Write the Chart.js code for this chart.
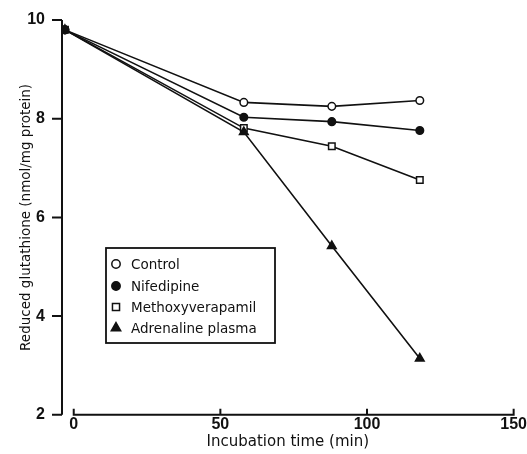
<!DOCTYPE html>
<html>
<head>
<meta charset="utf-8">
<script src="https://cdn.jsdelivr.net/npm/chart.js@4.4.1/dist/chart.umd.min.js"></script>
<style>
  html, body { margin: 0; padding: 0; background: #fff; }
  #wrap { width: 527px; height: 454px; }
</style>
</head>
<body>
<div id="wrap"><canvas id="chart" width="527" height="454"></canvas></div>
<script>
// ============ DATA ============
const seriesNames = ['Control', 'Nifedipine', 'Methoxyverapamil', 'Adrenaline plasma'];
const times = [-3, 58, 88, 118];
const control = [9.8, 8.33, 8.25, 8.37];
const nifedipine = [9.8, 8.03, 7.94, 7.76];
const methoxyverapamil = [9.8, 7.81, 7.44, 6.76];
const adrenaline = [9.8, 7.73, 5.42, 3.14];
const xTicks = [0, 50, 100, 150];
const yTicks = [2, 4, 6, 8, 10];

const INK = '#111';
const TEXT_FONT = '"DejaVu Sans", Verdana, sans-serif';
const TICK_FONT = '"Liberation Sans", Arial, sans-serif';

function pts(vals) {
    return vals.map((v, i) => ({ x: times[i], y: v }));
}

const styles = [
    { pointStyle: 'circle', fill: '#fff', r: 3.8, order: 3 },
    { pointStyle: 'circle', fill: INK, r: 3.8, order: 1 },
    { pointStyle: 'rect', fill: '#fff', r: 4.6, order: 2 },
    { pointStyle: 'triangle', fill: INK, r: 5, order: 0 }
];
const values = [control, nifedipine, methoxyverapamil, adrenaline];

const datasets = seriesNames.map((name, i) => ({
    label: name,
    data: pts(values[i]),
    order: styles[i].order,
    showLine: true,
    borderColor: INK,
    borderWidth: 1.6,
    pointStyle: styles[i].pointStyle,
    pointRadius: styles[i].r,
    pointBackgroundColor: styles[i].fill,
    pointBorderColor: INK,
    pointBorderWidth: 1.5
}));

// ============ AXES (drawn from the scales) ============
const axesPlugin = {
    id: 'paperAxes',
    afterDraw(chart) {
        const { ctx, chartArea, scales } = chart;
        const xs = scales.x, ys = scales.y;
        ctx.save();
        ctx.strokeStyle = INK;
        ctx.lineWidth = 2;
        // y axis, ticks pointing left
        const left = chartArea.left;
        ctx.beginPath();
        ctx.moveTo(left, ys.getPixelForValue(10));
        ctx.lineTo(left, ys.getPixelForValue(2));
        yTicks.forEach(t => {
            const py = ys.getPixelForValue(t);
            ctx.moveTo(left - 10, py);
            ctx.lineTo(left, py);
        });
        ctx.stroke();
        // x axis, detached from y axis, ticks pointing up
        const by = chartArea.bottom;
        ctx.beginPath();
        ctx.moveTo(xs.getPixelForValue(0), by);
        ctx.lineTo(xs.getPixelForValue(150), by);
        xTicks.forEach(t => {
            const px = xs.getPixelForValue(t);
            ctx.moveTo(px, by + 1);
            ctx.lineTo(px, by - 6);
        });
        ctx.stroke();
        ctx.restore();
    }
};

// ============ LEGEND BOX ============
const legendPlugin = {
    id: 'boxLegend',
    afterDraw(chart) {
        const { ctx } = chart;
        const bx = 106, by = 248, bw = 169, bh = 95;
        ctx.save();
        ctx.strokeStyle = INK;
        ctx.lineWidth = 1.8;
        ctx.strokeRect(bx, by, bw, bh);
        ctx.font = '13.5px ' + TEXT_FONT;
        ctx.textBaseline = 'middle';
        const rows = [264, 286, 307, 328];
        chart.data.datasets.forEach((ds, i) => {
            const cy = rows[i];
            ctx.fillStyle = ds.pointBackgroundColor;
            ctx.strokeStyle = INK;
            ctx.lineWidth = 1.5;
            Chart.helpers.drawPoint(ctx, {
                pointStyle: ds.pointStyle,
                radius: ds.pointRadius + 0.4,
                borderWidth: 1.5,
                rotation: 0
            }, 116, cy);
            ctx.fillStyle = INK;
            ctx.fillText(ds.label, 131, cy + 1);
        });
        ctx.restore();
    }
};

new Chart(document.getElementById('chart').getContext('2d'), {
    type: 'scatter',
    data: { datasets },
    options: {
        responsive: false,
        animation: false,
        layout: { padding: { top: 20, right: 0, left: 0, bottom: 3 } },
        plugins: { legend: { display: false }, tooltip: { enabled: false } },
        scales: {
            x: {
                type: 'linear',
                min: -4,
                max: 150,
                afterBuildTicks: s => { s.ticks = xTicks.map(v => ({ value: v })); },
                grid: { display: false, drawTicks: false },
                border: { display: false },
                ticks: {
                    color: INK,
                    padding: 0,
                    font: { family: TICK_FONT, size: 16, weight: 'bold' }
                },
                title: {
                    display: true,
                    text: 'Incubation time (min)',
                    color: INK,
                    padding: { top: -1, bottom: 0 },
                    font: { family: TEXT_FONT, size: 15 }
                }
            },
            y: {
                min: 2,
                max: 10,
                afterBuildTicks: s => { s.ticks = yTicks.map(v => ({ value: v })); },
                // tick padding would otherwise push the plot top down
                afterFit: s => { s.paddingTop = 0; s.paddingBottom = 0; },
                grid: { display: false, drawTicks: false },
                border: { display: false },
                ticks: {
                    color: INK,
                    padding: 17,
                    font: { family: TICK_FONT, size: 16, weight: 'bold' }
                },
                title: {
                    display: true,
                    text: 'Reduced glutathione (nmol/mg protein)',
                    color: INK,
                    padding: { top: 18, bottom: -24 },
                    font: { family: TEXT_FONT, size: 13.5 }
                }
            }
        }
    },
    plugins: [axesPlugin, legendPlugin]
});
</script>
</body>
</html>
